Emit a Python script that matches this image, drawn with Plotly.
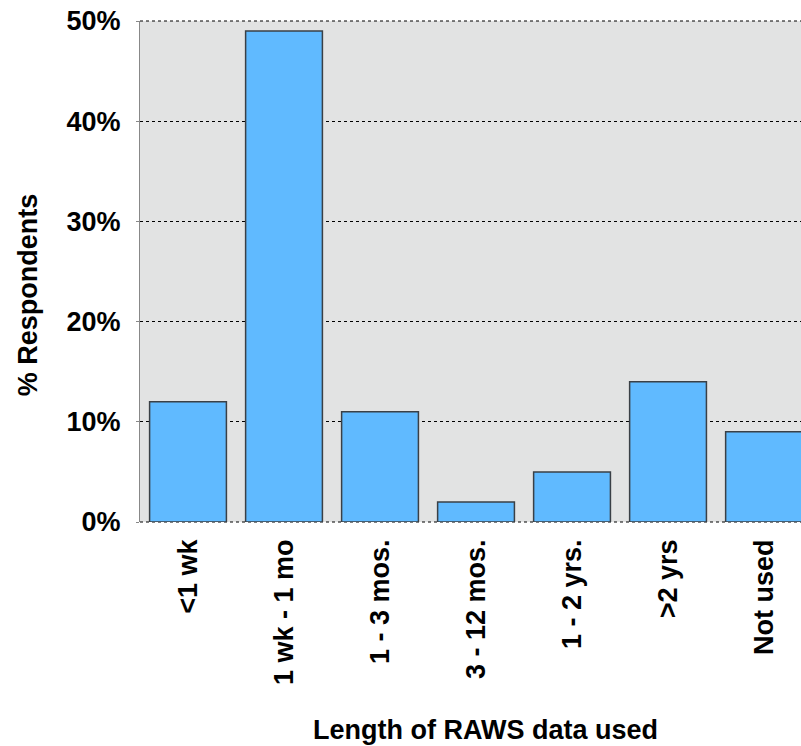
import plotly.graph_objects as go

categories = ["<1 wk", "1 wk - 1 mo", "1 - 3 mos.", "3 - 12 mos.", "1 - 2 yrs.", ">2 yrs", "Not used"]
percent_respondents = [12, 49, 11, 2, 5, 14, 9]
y_ticks = [0, 10, 20, 30, 40, 50]
y_tick_labels = ["0%", "10%", "20%", "30%", "40%", "50%"]

FONT = "Liberation Sans, Arial, sans-serif"
SIZE = 27

fig = go.Figure()
fig.add_trace(go.Bar(
    x=list(range(len(categories))),
    y=percent_respondents,
    marker={"color": "#60baff", "line": {"color": "#3a4046", "width": 1.5}},
    width=0.8,
    showlegend=False,
))

# plotly drops grid lines at the plot edges, so draw the top and bottom ones by hand
edge_lines = [
    {"type": "line", "xref": "paper", "yref": "paper", "x0": 0, "x1": 1, "y0": yy, "y1": yy,
     "line": {"color": "black", "width": 1, "dash": "dot"}, "layer": "below"}
    for yy in (0, 1)
]

fig.update_layout(
    width=801,
    height=746,
    paper_bgcolor="white",
    plot_bgcolor="#e2e3e3",
    margin={"l": 140, "r": 0, "t": 21, "b": 224},
    font={"family": FONT, "size": SIZE, "color": "black"},
    shapes=edge_lines,
    xaxis={
        "range": [-0.5, 6.385],
        "tickmode": "array",
        "tickvals": list(range(len(categories))),
        "ticktext": categories,
        "tickangle": -90,
        "tickfont": {"family": FONT, "size": SIZE, "color": "black", "weight": "bold"},
        "showgrid": False,
        "zeroline": False,
        "showline": False,
        "ticks": "",
        "ticklabelstandoff": 11,
    },
    yaxis={
        "range": [0, 50],
        "tickmode": "array",
        "tickvals": y_ticks,
        "ticktext": y_tick_labels,
        "tickfont": {"family": FONT, "size": SIZE, "color": "black", "weight": "bold"},
        "showgrid": True,
        "gridcolor": "black",
        "gridwidth": 1,
        "griddash": "dot",
        "zeroline": False,
        "showline": True,
        "linecolor": "#888888",
        "linewidth": 1,
        "ticks": "outside",
        "ticklen": 3,
        "tickcolor": "#888888",
        "ticklabelstandoff": 10,
    },
    annotations=[
        {
            "text": "<b>% Respondents</b>",
            "xref": "paper", "yref": "paper",
            "x": -0.169, "y": 0.453,
            "xanchor": "center", "yanchor": "middle",
            "textangle": -90, "showarrow": False,
            "font": {"family": FONT, "size": SIZE, "color": "black"},
        },
        {
            "text": "<b>Length of RAWS data used</b>",
            "xref": "paper", "yref": "paper",
            "x": 0.522, "y": -0.415,
            "xanchor": "center", "yanchor": "middle",
            "showarrow": False,
            "font": {"family": FONT, "size": SIZE, "color": "black"},
        },
    ],
)

fig.write_html(
    "out.html",
    config={"displayModeBar": False},
    post_script="document.body.style.margin='0'; document.body.style.overflow='hidden';",
)
